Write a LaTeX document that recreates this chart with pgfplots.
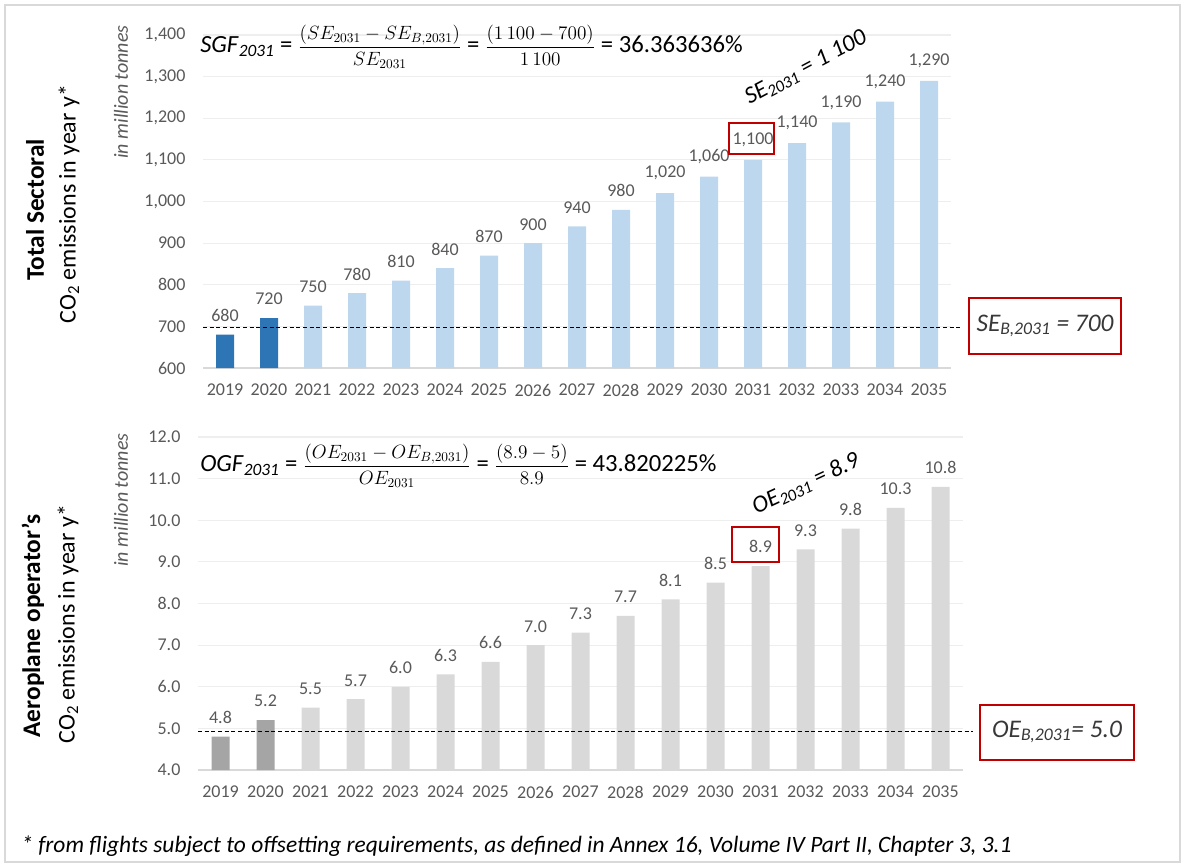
\documentclass[border=0pt]{standalone}
\usepackage{amsmath}
\usepackage{fontspec}
\setmainfont{Carlito}
\usepackage{pgfplots}
\pgfplotsset{compat=1.18}

\definecolor{tickgray}{HTML}{595959}
\definecolor{darkblue}{HTML}{2E75B6}
\definecolor{lightblue}{HTML}{BDD7EE}
\definecolor{darkgray}{HTML}{A5A5A5}
\definecolor{lightgray}{HTML}{D9D9D9}
\definecolor{gridgray}{HTML}{EEEEEE}
\definecolor{axisgray}{HTML}{D9D9D9}
\definecolor{boxred}{HTML}{C00000}
\definecolor{framegray}{HTML}{D9D9D9}

\pgfplotsset{
  emis/.style={
    scale only axis,
    anchor=south west,
    axis x line*=bottom,
    axis y line*=left,
    x axis line style={draw=axisgray, line width=0.9pt},
    y axis line style={draw=none},
    major tick length=0pt,
    tick style={draw=none},
    ymajorgrids,
    grid style={draw=gridgray, line width=0.9pt},
    xmin=2018.5, xmax=2035.5,
    xtick={2019,...,2035},
    /pgf/number format/assume math mode=true,
    tick label style={font=\fontsize{13.5}{16}\selectfont, text=tickgray},
    x tick label style={/pgf/number format/1000 sep={}, anchor=north, inner sep=0pt, yshift=-12pt},
    y tick label style={anchor=east, inner sep=0pt, xshift=-13pt},
    every node near coord/.style={font=\fontsize{13.5}{16}\selectfont, text=tickgray,
      anchor=south, inner sep=0pt, yshift=9.5pt},
  },
  bars/.style={ybar, bar width=13.5pt, bar shift=0pt, draw=none, fill=#1, nodes near coords},
}

% fractions of the growth-factor formulas
\newcommand{\fr}[2]{{\fontsize{14}{17}\selectfont$\dfrac{#1}{#2}$}}

\begin{document}
\begin{tikzpicture}[x=0.75pt,y=-0.75pt]
% page and outer frame
\path (0,0) rectangle (1185,867);
\draw[framegray, line width=1.5pt] (5,5) rectangle (1180,862);

% ---------- total sectoral emissions ----------
\begin{axis}[emis,
  at={(152.25pt,-276pt)}, width=561pt, height=249.75pt,
  ymin=600, ymax=1400, ytick={600,700,...,1400},
  y tick label style={/pgf/number format/1000 sep={,}},
  nodes near coords style={/pgf/number format/1000 sep={,}},
]
\addplot[bars=darkblue] coordinates {(2019,680) (2020,720)};
\addplot[bars=lightblue] coordinates {
  (2021,750) (2022,780) (2023,810) (2024,840) (2025,870) (2026,900)
  (2027,940) (2028,980) (2029,1020) (2030,1060) (2031,1100) (2032,1140)
  (2033,1190) (2034,1240) (2035,1290)};
\coordinate (seL) at (axis cs:2018.5,697);
\coordinate (seR) at (axis cs:2035.75,697);
\end{axis}
\draw[black, line width=0.75pt, dash pattern=on 3pt off 2pt] (seL) -- (seR);

% ---------- aeroplane operator emissions ----------
\begin{axis}[emis,
  at={(148.5pt,-577.5pt)}, width=573.75pt, height=249.75pt,
  ymin=4, ymax=12, ytick={4,5,...,12},
  y tick label style={/pgf/number format/.cd, fixed, fixed zerofill, precision=1},
  nodes near coords style={/pgf/number format/.cd, fixed, fixed zerofill, precision=1},
]
\addplot[bars=darkgray] coordinates {(2019,4.8) (2020,5.2)};
\addplot[bars=lightgray] coordinates {
  (2021,5.5) (2022,5.7) (2023,6.0) (2024,6.3) (2025,6.6) (2026,7.0)
  (2027,7.3) (2028,7.7) (2029,8.1) (2030,8.5) (2031,8.9) (2032,9.3)
  (2033,9.8) (2034,10.3) (2035,10.8)};
\coordinate (oeL) at (axis cs:2018.5,4.93);
\coordinate (oeR) at (axis cs:2035.72,4.93);
\end{axis}
\draw[black, line width=0.75pt, dash pattern=on 3pt off 2pt] (oeL) -- (oeR);

% ---------- axis titles ----------
\node[rotate=90, font=\bfseries\fontsize{19}{22}\selectfont] at (35,210) {Total Sectoral};
\node[rotate=90, font=\fontsize{18}{21}\selectfont] at (69,204) {CO\textsubscript{2} emissions in year y*};
\node[rotate=90, font=\itshape\fontsize{15}{18}\selectfont, text=tickgray] at (121,92) {in million tonnes};
\node[rotate=90, font=\bfseries\fontsize{19}{22}\selectfont] at (33,626) {Aeroplane operator’s};
\node[rotate=90, font=\fontsize{18}{21}\selectfont] at (68,624) {CO\textsubscript{2} emissions in year y*};
\node[rotate=90, font=\itshape\fontsize{15}{18}\selectfont, text=tickgray] at (121,500) {in million tonnes};

% ---------- growth factor formulas ----------
\node[anchor=west, inner sep=0pt, font=\fontsize{18.5}{22}\selectfont] at (200,47)
  {\textit{SGF}\textsubscript{\textit{2031}} = \fr{\left(SE_{2031}-SE_{B,2031}\right)}{SE_{2031}} = \fr{(1\,100-700)}{1\,100} = 36.363636\%};
\node[anchor=west, inner sep=0pt, font=\fontsize{18.5}{22}\selectfont] at (200,466)
  {\textit{OGF}\textsubscript{\textit{2031}} = \fr{\left(OE_{2031}-OE_{B,2031}\right)}{OE_{2031}} = \fr{(8.9-5)}{8.9} = 43.820225\%};

% ---------- year-2031 annotations ----------
\node[rotate=28, font=\itshape\fontsize{18}{21}\selectfont] at (806,68) {SE\textsubscript{2031} = 1 100};
\node[rotate=25, font=\itshape\fontsize{18}{21}\selectfont] at (806,484) {OE\textsubscript{2031} = 8.9};
\draw[boxred, line width=1.5pt] (729,123) rectangle (774,154);
\draw[boxred, line width=1.5pt] (732,527) rectangle (779,562);

% ---------- baseline boxes ----------
\draw[boxred, line width=1.5pt] (969,298) rectangle (1121,354);
\node[font=\itshape\fontsize{19}{22}\selectfont, text=black!78] at (1045,326) {SE\textsubscript{B,2031} = 700};
\draw[boxred, line width=1.5pt] (980,705) rectangle (1134,760);
\node[font=\itshape\fontsize{19}{22}\selectfont, text=black!78] at (1057,732) {OE\textsubscript{B,2031}= 5.0};

% ---------- footnote ----------
\node[anchor=base west, inner sep=0pt, font=\itshape\fontsize{17.6}{20}\selectfont] at (21,852)
  {* from flights subject to offsetting requirements, as defined in Annex 16, Volume IV Part II, Chapter 3, 3.1};
\end{tikzpicture}
\end{document}
